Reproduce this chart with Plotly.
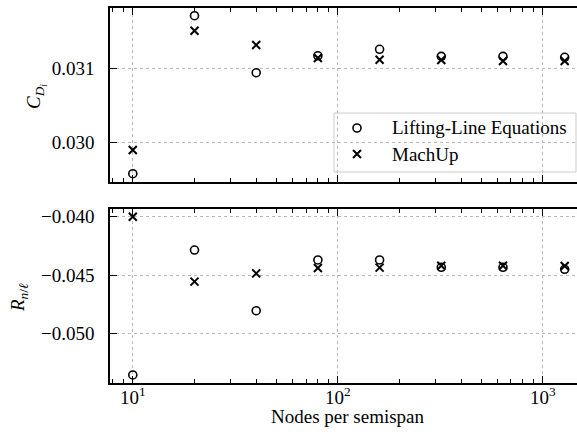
import numpy as np
import plotly.graph_objects as go

nodes = [10, 20, 40, 80, 160, 320, 640, 1280]
cd_ll = [0.029576, 0.031711, 0.030941, 0.031170, 0.031257, 0.031162, 0.031162, 0.031149]
cd_mu = [0.029896, 0.031508, 0.031315, 0.031139, 0.031116, 0.031112, 0.031099, 0.031099]
rn_ll = [-0.05357, -0.04286, -0.04806, -0.04371, -0.04371, -0.04434, -0.04434, -0.04451]
rn_mu = [-0.04000, -0.04557, -0.04486, -0.04440, -0.04437, -0.04420, -0.04420, -0.04423]

cd_ticks = [0.030, 0.031]
cd_ticktext = ["0.030", "0.031"]
rn_ticks = [-0.050, -0.045, -0.040]
rn_ticktext = ["\u22120.050", "\u22120.045", "\u22120.040"]
x_ticks = [10, 100, 1000]
x_ticktext = ["10<sup>1</sup>", "10<sup>2</sup>", "10<sup>3</sup>"]
x_minor = [m * d for d in [1, 10, 100, 1000] for m in range(2, 10)]
leg_names = ["Lifting-Line Equations", "MachUp"]

W, H = 577, 444
ML, MR, MT, MB = 110, 0, 8, 61
PW = W - ML - MR
PH = H - MT - MB

FONT = "Liberation Serif"
FS = 19


def px_x(px):
    return (px - ML) / PW


def px_y(py):
    return (H - MB - py) / PH


fig = go.Figure()
ll_style = dict(mode="markers", marker=dict(symbol="circle-open", size=8, color="black",
                                              line=dict(width=1.6, color="black")))
mu_style = dict(mode="markers", marker=dict(symbol="x-thin-open", size=8, color="black",
                                              line=dict(width=2, color="black")))
fig.add_trace(go.Scatter(x=nodes, y=cd_ll, name=leg_names[0], xaxis="x", yaxis="y",
                         showlegend=False, **ll_style))
fig.add_trace(go.Scatter(x=nodes, y=cd_mu, name=leg_names[1], xaxis="x", yaxis="y",
                         showlegend=False, **mu_style))
fig.add_trace(go.Scatter(x=nodes, y=rn_ll, name=leg_names[0], xaxis="x2", yaxis="y2",
                         showlegend=False, **ll_style))
fig.add_trace(go.Scatter(x=nodes, y=rn_mu, name=leg_names[1], xaxis="x2", yaxis="y2",
                         showlegend=False, **mu_style))

xrange = [np.log10(7.74), 3.1673]
grid = dict(showgrid=True, gridcolor="#b8b8b8", griddash="dot", gridwidth=0.8)
xcommon = dict(type="log", range=xrange, showline=True, linecolor="black", linewidth=1.6,
               mirror="ticks", ticks="inside", ticklen=7, tickwidth=1.2, tickcolor="black",
               tickmode="array", tickvals=x_ticks, zeroline=False, showticklabels=False,
               minor=dict(tickmode="array", tickvals=x_minor, ticks="inside", ticklen=4,
                          tickwidth=1, tickcolor="black", showgrid=False),
               **grid)
ycommon = dict(showline=True, linecolor="black", linewidth=1.6, mirror=False,
               ticks="inside", ticklen=7, tickwidth=1.2, tickcolor="black",
               tickmode="array", zeroline=False, ticklabelstandoff=10, **grid)

top_dom = [1 - 174 / PH, 1.0]
bot_dom = [0.0, 174 / PH]

fig.update_layout(
    width=W, height=H,
    margin=dict(l=ML, r=MR, t=MT, b=MB),
    paper_bgcolor="white", plot_bgcolor="rgba(0,0,0,0)",
    font=dict(family=FONT, size=FS, color="black"),
    xaxis=dict(domain=[0, 1], anchor="y", **xcommon),
    xaxis2=dict(domain=[0, 1], anchor="y2", **xcommon),
    yaxis=dict(domain=top_dom, anchor="x", range=[0.029464, 0.031815],
               tickvals=cd_ticks, ticktext=cd_ticktext, **ycommon),
    yaxis2=dict(domain=bot_dom, anchor="x2", range=[-0.05426, -0.03934],
                tickvals=rn_ticks, ticktext=rn_ticktext, **ycommon),
    xaxis3=dict(domain=[0, 1], range=[0, 1], visible=False, anchor="y3", fixedrange=True),
    yaxis3=dict(domain=[0, 1], range=[0, 1], visible=False, anchor="x3", fixedrange=True),
    showlegend=False,
)

# x tick labels
for v, t in zip(x_ticks, x_ticktext):
    fig.add_annotation(text=t, xref="x2", yref="paper", x=np.log10(v), y=px_y(396),
                       xanchor="center", yanchor="middle", showarrow=False,
                       font=dict(family=FONT, size=FS))

# legend box
leg_rows = [128, 154]
fig.add_shape(type="rect", xref="paper", yref="paper",
              x0=px_x(334), x1=px_x(576), y0=px_y(172), y1=px_y(113),
              fillcolor="rgba(255,255,255,0.8)", line=dict(color="#cccccc", width=1),
              layer="between")
fig.add_trace(go.Scatter(x=[px_x(357)], y=[px_y(leg_rows[0])], xaxis="x3", yaxis="y3",
                         hoverinfo="skip", showlegend=False, **ll_style))
fig.add_trace(go.Scatter(x=[px_x(357)], y=[px_y(leg_rows[1])], xaxis="x3", yaxis="y3",
                         hoverinfo="skip", showlegend=False, **mu_style))
for name, row in zip(leg_names, leg_rows):
    fig.add_annotation(text=name, xref="paper", yref="paper", x=px_x(390), y=px_y(row),
                       xanchor="left", yanchor="middle", showarrow=False,
                       font=dict(family=FONT, size=FS))

fig.add_annotation(text="<i>C</i><sub><i>D</i><sub><i>i</i></sub></sub>", xref="paper", yref="paper",
                   x=px_x(36), y=px_y(97), textangle=-90, showarrow=False,
                   xanchor="center", yanchor="middle", font=dict(family=FONT, size=FS))
fig.add_annotation(text="<i>R</i><sub><i>n</i>/<i>\u2113</i></sub>", xref="paper", yref="paper",
                   x=px_x(19), y=px_y(298), textangle=-90, showarrow=False,
                   xanchor="center", yanchor="middle", font=dict(family=FONT, size=FS))
fig.add_annotation(text="Nodes per semispan", xref="paper", yref="paper",
                   x=px_x(348), y=px_y(416), showarrow=False,
                   xanchor="center", yanchor="middle", font=dict(family=FONT, size=FS))

fig.write_html("out.html")
